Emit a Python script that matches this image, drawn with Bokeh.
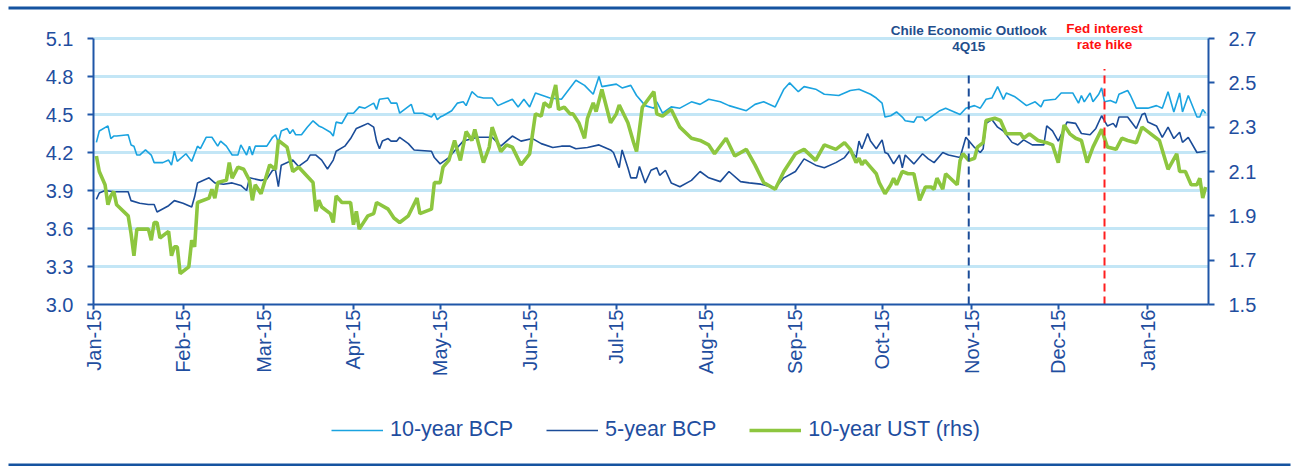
import math
import pandas as pd
from bokeh.plotting import figure
from bokeh.models import (Range1d, LinearAxis, FixedTicker, DatetimeTickFormatter,
                          NumeralTickFormatter, Legend, LegendItem, Label)
from bokeh.layouts import column
from bokeh.embed import file_html
from bokeh.resources import INLINE

# ---------------- data (days after 2015-01-01, values) ----------------
START = "2015-01-01"
END_DAY = 386

bcp10_day = [1, 2, 5, 6, 7, 8, 12, 13, 14, 15, 16, 18, 20, 21, 24, 26, 27, 28, 29, 32,
             34, 36, 37, 39, 41, 43, 44, 46, 48, 50, 51, 53, 54, 55, 56, 60, 62, 63, 64, 65,
             67, 68, 69, 70, 72, 74, 76, 78, 79, 82, 83, 84, 86, 88, 90, 92, 94, 97, 98, 99,
             102, 103, 105, 106, 110, 111, 114, 117, 118, 119, 120, 121, 124, 126, 128, 129, 131, 133, 135, 138,
             140, 143, 145, 147, 149, 151, 153, 158, 162, 167, 170, 173, 175, 176, 181, 183, 186, 188, 191, 194,
             195, 197, 200, 203, 207, 210, 213, 217, 220, 226, 229, 232, 236, 239, 241, 244, 246, 250, 253, 258,
             262, 265, 269, 271, 273, 274, 276, 278, 280, 281, 284, 285, 287, 288, 293, 295, 297, 300, 302, 305,
             307, 309, 311, 313, 315, 316, 319, 323, 326, 328, 329, 333, 335, 339, 341, 342, 343, 345, 346, 348,
             349, 350, 352, 354, 355, 358, 359, 361, 365, 368, 370, 372, 374, 376, 377, 379, 382, 383, 384, 385]
bcp10_val = [4.28, 4.37, 4.41, 4.31, 4.33, 4.33, 4.34, 4.26, 4.25, 4.18, 4.18, 4.22, 4.18, 4.12, 4.12, 4.14, 4.10, 4.21, 4.13, 4.19,
             4.13, 4.25, 4.23, 4.32, 4.32, 4.25, 4.29, 4.25, 4.18, 4.18, 4.26, 4.18, 4.25, 4.18, 4.25, 4.25, 4.32, 4.34, 4.28, 4.37,
             4.39, 4.35, 4.38, 4.34, 4.34, 4.40, 4.45, 4.41, 4.40, 4.36, 4.33, 4.44, 4.43, 4.51, 4.51, 4.56, 4.55, 4.59, 4.54, 4.62,
             4.63, 4.59, 4.59, 4.51, 4.58, 4.51, 4.51, 4.48, 4.51, 4.46, 4.48, 4.49, 4.53, 4.59, 4.60, 4.57, 4.68, 4.64, 4.63, 4.63,
             4.57, 4.60, 4.62, 4.56, 4.62, 4.56, 4.67, 4.63, 4.62, 4.77, 4.73, 4.66, 4.80, 4.72, 4.74, 4.71, 4.73, 4.65, 4.57, 4.55,
             4.60, 4.51, 4.56, 4.55, 4.60, 4.58, 4.62, 4.60, 4.57, 4.53, 4.58, 4.60, 4.56, 4.70, 4.75, 4.68, 4.72, 4.70, 4.66, 4.65,
             4.69, 4.70, 4.66, 4.63, 4.59, 4.48, 4.49, 4.52, 4.48, 4.45, 4.44, 4.48, 4.48, 4.45, 4.53, 4.55, 4.53, 4.50, 4.55, 4.57,
             4.55, 4.62, 4.63, 4.72, 4.62, 4.67, 4.64, 4.57, 4.60, 4.56, 4.61, 4.62, 4.67, 4.67, 4.59, 4.65, 4.60, 4.67, 4.60, 4.66,
             4.71, 4.60, 4.61, 4.59, 4.66, 4.69, 4.65, 4.55, 4.55, 4.57, 4.55, 4.68, 4.52, 4.67, 4.52, 4.65, 4.48, 4.48, 4.54, 4.51]

bcp5_day = [1, 2, 4, 7, 12, 13, 16, 19, 21, 22, 26, 28, 31, 34, 35, 36, 40, 42, 45, 48,
            51, 53, 54, 58, 60, 62, 63, 64, 65, 69, 71, 74, 75, 77, 79, 81, 83, 84, 87, 89,
            91, 93, 95, 97, 98, 99, 100, 102, 103, 105, 106, 109, 111, 117, 118, 120, 123, 126, 128, 133,
            138, 141, 145, 148, 152, 155, 159, 162, 165, 167, 171, 175, 179, 180, 182, 183, 185, 186, 188, 189,
            191, 193, 195, 196, 198, 200, 203, 207, 210, 213, 217, 220, 224, 227, 231, 236, 239, 243, 246, 250,
            253, 257, 260, 262, 264, 265, 266, 268, 269, 271, 273, 274, 275, 277, 279, 280, 281, 284, 287, 289,
            291, 294, 296, 300, 302, 305, 307, 308, 309, 311, 313, 315, 318, 320, 322, 325, 329, 330, 332, 334,
            337, 340, 342, 345, 347, 349, 351, 353, 354, 355, 358, 361, 363, 364, 365, 368, 370, 372, 374, 376,
            377, 379, 382, 385]
bcp5_val = [3.83, 3.88, 3.90, 3.89, 3.89, 3.82, 3.80, 3.79, 3.79, 3.73, 3.78, 3.82, 3.80, 3.77, 3.85, 3.96, 4.00, 3.96, 3.95, 3.96,
            3.94, 3.90, 4.00, 3.98, 3.99, 4.06, 4.06, 3.93, 4.10, 4.14, 4.09, 4.14, 4.18, 4.18, 4.14, 4.07, 4.14, 4.21, 4.25, 4.31,
            4.39, 4.41, 4.43, 4.40, 4.29, 4.23, 4.29, 4.31, 4.29, 4.29, 4.32, 4.27, 4.22, 4.21, 4.16, 4.11, 4.16, 4.24, 4.29, 4.32,
            4.32, 4.25, 4.33, 4.29, 4.31, 4.27, 4.24, 4.25, 4.25, 4.23, 4.24, 4.26, 4.22, 4.20, 4.08, 4.22, 4.08, 4.00, 4.00, 4.09,
            3.96, 4.06, 4.08, 4.02, 4.06, 3.96, 3.93, 3.98, 4.05, 4.00, 3.97, 4.05, 3.97, 3.96, 3.95, 3.92, 4.00, 4.05, 4.15, 4.10,
            4.08, 4.12, 4.16, 4.22, 4.16, 4.29, 4.23, 4.35, 4.29, 4.23, 4.30, 4.20, 4.19, 4.11, 4.18, 4.08, 4.18, 4.11, 4.19, 4.15,
            4.12, 4.20, 4.18, 4.16, 4.32, 4.24, 4.20, 4.23, 4.43, 4.46, 4.40, 4.37, 4.28, 4.26, 4.30, 4.26, 4.26, 4.41, 4.37, 4.29,
            4.44, 4.43, 4.35, 4.34, 4.39, 4.49, 4.41, 4.43, 4.40, 4.48, 4.48, 4.39, 4.50, 4.51, 4.44, 4.41, 4.32, 4.40, 4.31, 4.36,
            4.28, 4.32, 4.20, 4.21]

ust10_day = [1, 2, 4, 5, 6, 7, 8, 12, 13, 14, 15, 19, 20, 21, 22, 23, 26, 27, 28, 29,
             30, 33, 34, 35, 36, 40, 41, 42, 43, 46, 47, 48, 50, 52, 54, 55, 56, 58, 61, 63,
             64, 67, 69, 71, 76, 77, 78, 79, 82, 83, 84, 86, 89, 90, 91, 92, 95, 97, 98, 102,
             104, 106, 109, 112, 113, 117, 118, 120, 121, 123, 125, 127, 129, 131, 132, 135, 137, 138, 141, 143,
             145, 148, 151, 153, 155, 156, 158, 160, 161, 163, 165, 166, 168, 170, 171, 173, 174, 176, 179, 181,
             182, 185, 187, 188, 190, 194, 195, 197, 200, 203, 207, 210, 213, 215, 219, 222, 226, 229, 232, 236,
             239, 243, 246, 250, 253, 257, 260, 262, 264, 265, 266, 267, 269, 271, 272, 274, 276, 277, 278, 280,
             282, 284, 286, 288, 290, 291, 292, 294, 295, 299, 300, 301, 303, 305, 306, 308, 309, 312, 314, 316,
             317, 321, 322, 324, 327, 330, 332, 334, 336, 338, 340, 342, 344, 346, 349, 351, 354, 356, 358, 361,
             363, 365, 369, 372, 375, 376, 378, 380, 382, 383, 384, 385]
ust10_val = [2.17, 2.10, 2.04, 1.95, 1.99, 2.01, 1.95, 1.90, 1.82, 1.72, 1.84, 1.84, 1.79, 1.87, 1.87, 1.80, 1.83, 1.72, 1.76, 1.76,
             1.64, 1.67, 1.79, 1.76, 1.96, 1.98, 2.02, 1.98, 2.05, 2.06, 2.14, 2.07, 2.12, 2.11, 2.06, 1.97, 2.04, 2.00, 2.13, 2.11,
             2.24, 2.21, 2.10, 2.12, 2.05, 1.92, 1.97, 1.94, 1.91, 1.87, 1.99, 1.96, 1.96, 1.86, 1.92, 1.84, 1.90, 1.91, 1.96, 1.93,
             1.89, 1.87, 1.90, 1.98, 1.91, 1.93, 2.05, 2.05, 2.12, 2.15, 2.24, 2.15, 2.28, 2.24, 2.29, 2.14, 2.21, 2.30, 2.19, 2.22,
             2.21, 2.13, 2.18, 2.36, 2.35, 2.41, 2.39, 2.49, 2.38, 2.39, 2.36, 2.36, 2.32, 2.25, 2.34, 2.41, 2.37, 2.47, 2.32, 2.36,
             2.40, 2.32, 2.23, 2.19, 2.39, 2.46, 2.36, 2.35, 2.38, 2.30, 2.25, 2.24, 2.22, 2.18, 2.25, 2.17, 2.20, 2.13, 2.05, 2.02,
             2.10, 2.18, 2.20, 2.15, 2.22, 2.20, 2.23, 2.20, 2.14, 2.16, 2.13, 2.15, 2.12, 2.09, 2.05, 2.00, 2.04, 2.07, 2.04, 2.10,
             2.09, 2.09, 1.97, 2.03, 2.03, 2.02, 2.07, 2.02, 2.09, 2.04, 2.15, 2.18, 2.15, 2.16, 2.21, 2.23, 2.33, 2.34, 2.33, 2.27,
             2.27, 2.27, 2.25, 2.27, 2.24, 2.23, 2.22, 2.14, 2.31, 2.27, 2.25, 2.24, 2.14, 2.21, 2.29, 2.21, 2.20, 2.25, 2.24, 2.23,
             2.30, 2.28, 2.24, 2.11, 2.18, 2.10, 2.10, 2.04, 2.04, 2.07, 1.98, 2.03]

left_ticks = [3.0, 3.3, 3.6, 3.9, 4.2, 4.5, 4.8, 5.1]
right_ticks = [1.5, 1.7, 1.9, 2.1, 2.3, 2.5, 2.7]
month_ticks = pd.date_range("2015-01-01", "2016-01-01", freq="MS")

event_dates = ["2015-10-31", "2015-12-17"]
event_labels = [["Chile Economic Outlook", "4Q15"], ["Fed interest", "rate hike"]]
series_names = ["10-year BCP", "5-year BCP", "10-year UST (rhs)"]

# ---------------- styling ----------------
TXT = "#1F4E9F"
AXIS = "#1F56A8"
RULE = "#1553A0"
C10 = "#1AA3E0"
C5 = "#1B4C98"
CUST = "#8DC63F"
GRID = "#C3E6F6"
FONT = "Liberation Sans"
W = 1295

FRAME_H = 266          # height of the 3.0 .. 5.1 band in pixels
HEAD_PX = 22           # extra room above the band for the event notes
px_left = (left_ticks[-1] - left_ticks[0]) / FRAME_H
px_right = (right_ticks[-1] - right_ticks[0]) / FRAME_H

t0 = pd.Timestamp(START)


def to_dates(days):
    return t0 + pd.to_timedelta(days, unit="D")


def rule_fig(height, top):
    f = figure(width=W, height=height, title=None, x_axis_location=None, y_axis_location=None,
               toolbar_location=None, output_backend="svg", frame_align=False,
               min_border_left=8, min_border_right=5, min_border_top=top,
               min_border_bottom=height - top - 3)
    f.background_fill_color = RULE
    f.border_fill_color = "white"
    f.outline_line_color = None
    f.grid.visible = False
    return f


top_rule = rule_fig(10, 4)

# ---------------- main chart ----------------
p = figure(width=W, height=385, x_axis_type="datetime",
           x_range=Range1d(t0, to_dates([END_DAY])[0]),
           y_range=Range1d(left_ticks[0], left_ticks[-1] + HEAD_PX * px_left),
           output_backend="svg", toolbar_location=None, frame_align=False,
           min_border_left=93, min_border_right=W - 1208, min_border_top=6, min_border_bottom=91)
p.outline_line_color = None
p.background_fill_color = "white"
p.border_fill_color = "white"

p.extra_y_ranges = {"rhs": Range1d(right_ticks[0], right_ticks[-1] + HEAD_PX * px_right)}

p.xgrid.visible = False
p.ygrid.ticker = FixedTicker(ticks=left_ticks)
p.ygrid.grid_line_color = GRID
p.ygrid.grid_line_width = 3

ya = p.yaxis[0]
ya.ticker = FixedTicker(ticks=left_ticks)
ya.formatter = NumeralTickFormatter(format="0.0")
ya.bounds = (left_ticks[0], left_ticks[-1])
ra = LinearAxis(y_range_name="rhs", ticker=FixedTicker(ticks=right_ticks),
                formatter=NumeralTickFormatter(format="0.0"), bounds=(right_ticks[0], right_ticks[-1]))
p.add_layout(ra, "right")

xa = p.xaxis[0]
xa.ticker = FixedTicker(ticks=[int(t.value // 10**6) for t in month_ticks])
fmt = "%b-%y"
xa.formatter = DatetimeTickFormatter(milliseconds=fmt, seconds=fmt, minsec=fmt, minutes=fmt,
                                     hourmin=fmt, hours=fmt, days=fmt, months=fmt, years=fmt)
xa.major_label_orientation = math.pi / 2

for ax in (ya, ra, xa):
    ax.axis_line_color = AXIS
    ax.axis_line_width = 2
    ax.major_tick_line_color = AXIS
    ax.major_tick_line_width = 2
    ax.major_tick_in = 0
    ax.major_tick_out = 6
    ax.minor_tick_line_color = None
    ax.major_label_text_color = TXT
    ax.major_label_text_font = FONT
    ax.major_label_text_font_size = "20px"
ya.major_label_standoff = 14
ra.major_label_standoff = 14
xa.major_tick_out = 5
xa.major_label_standoff = 0

r10 = p.line(to_dates(bcp10_day), bcp10_val, line_color=C10, line_width=1.6)
r5 = p.line(to_dates(bcp5_day), bcp5_val, line_color=C5, line_width=1.6)
ru = p.line(to_dates(ust10_day), ust10_val, line_color=CUST, line_width=3.6, y_range_name="rhs")

ev = to_dates([(pd.Timestamp(d) - t0).days for d in event_dates])
p.segment(x0=[ev[0]], x1=[ev[0]], y0=[3.0], y1=[4.84], line_color=C5, line_width=2, line_dash="8 5")
p.segment(x0=[ev[1]], x1=[ev[1]], y0=[3.0], y1=[4.86], line_color="#FF1E1E", line_width=2, line_dash="8 5")

for (l1, l2), d, col, offs in zip(event_labels, ev, ["#1F4E8C", "#FF1010"], [(8, -8), (10, -6)]):
    for txt, off in zip((l1, l2), offs):
        p.add_layout(Label(x=d, y=left_ticks[-1] + off * px_left, text=txt,
                           text_align="center", text_baseline="middle",
                           text_font=FONT, text_font_style="bold", text_font_size="13.5px",
                           text_color=col))

# ---------------- legend strip ----------------
# key lines reuse the series but sit outside this strip's (empty) view window
lg = figure(width=W, height=60, title=None, x_axis_location=None, y_axis_location=None,
            toolbar_location=None, output_backend="svg", frame_align=False,
            x_range=Range1d(0, 1), y_range=Range1d(0, 1),
            min_border_left=0, min_border_right=0, min_border_top=0, min_border_bottom=0)
lg.outline_line_color = None
lg.grid.visible = False
k10 = lg.line(bcp10_day, bcp10_val, line_color=C10, line_width=1.6)
k5 = lg.line(bcp5_day, bcp5_val, line_color=C5, line_width=1.6)
ku = lg.line(ust10_day, ust10_val, line_color=CUST, line_width=3.6)
legend = Legend(items=[LegendItem(label=series_names[0], renderers=[k10]),
                       LegendItem(label=series_names[1], renderers=[k5]),
                       LegendItem(label=series_names[2], renderers=[ku])],
                orientation="horizontal", location=(331, 13),
                glyph_width=52, glyph_height=22, label_standoff=7, spacing=33,
                padding=0, margin=0, border_line_color=None, background_fill_alpha=0,
                label_text_font=FONT, label_text_font_size="21.5px", label_text_color=TXT)
lg.add_layout(legend, "center")

bot_rule = rule_fig(11, 7)

layout = column(top_rule, p, lg, bot_rule, spacing=0)
open("out.html", "w").write(file_html(layout, INLINE))
